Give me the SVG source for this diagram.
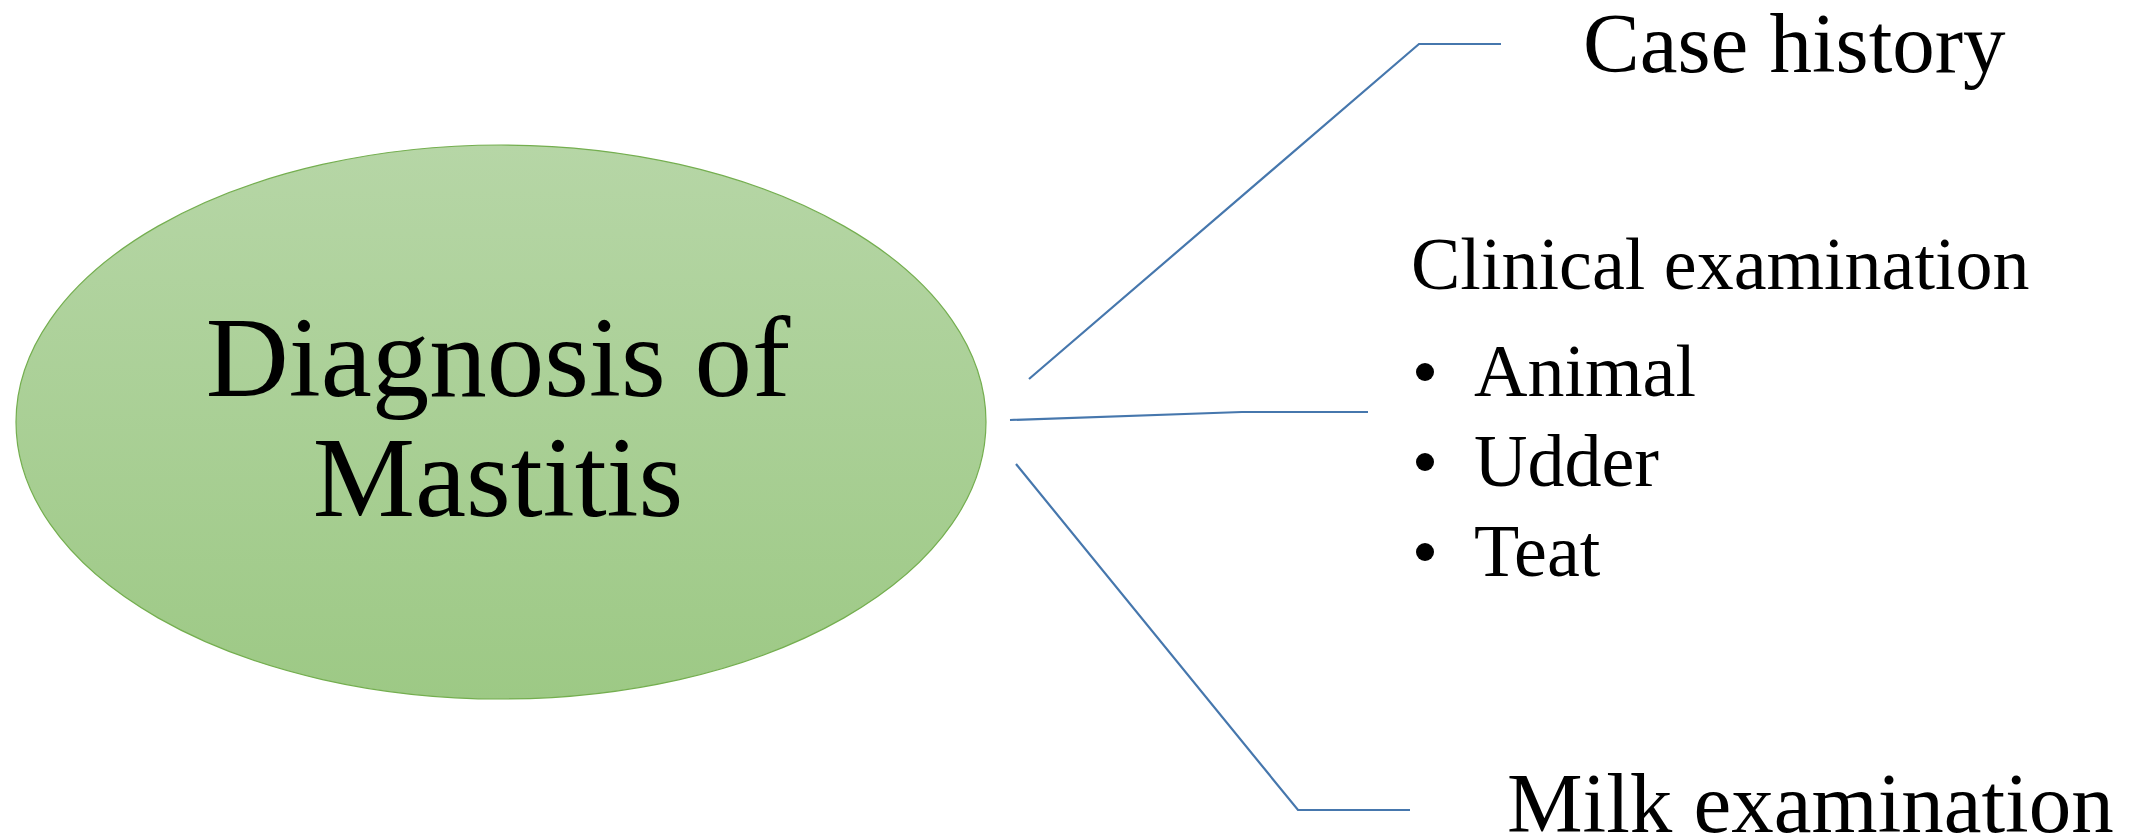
<svg xmlns="http://www.w3.org/2000/svg" width="2134" height="840" viewBox="0 0 2134 840">
<defs>
<linearGradient id="g" x1="0" y1="0" x2="0" y2="1">
<stop offset="0" stop-color="#b6d6a6"/>
<stop offset="1" stop-color="#9dc985"/>
</linearGradient>
<style>
.t{font-family:'Liberation Serif','Times New Roman',Tinos,'DejaVu Serif',serif;fill:#000}
.c{fill:none;stroke:#4677ad;stroke-width:2.2}
</style>
</defs>
<rect width="2134" height="840" fill="#fff"/>
<g id="main">
<ellipse cx="501" cy="422" rx="485" ry="277" fill="url(#g)" stroke="#74ae4f" stroke-width="1.2"/>
<text class="t" x="498" y="396" font-size="115" text-anchor="middle">Diagnosis of</text>
<text class="t" x="498" y="516" font-size="115" text-anchor="middle">Mastitis</text>
</g>
<g id="connectors">
<polyline class="c" points="1029,379 1419,44 1501,44"/>
<polyline class="c" points="1010,420 1242,412 1368,412"/>
<polyline class="c" points="1016,464 1298,810 1410,810"/>
</g>
<g id="case-history">
<text class="t" x="1583" y="72" font-size="85">Case history</text>
</g>
<g id="clinical-examination">
<text class="t" x="1411" y="289" font-size="74">Clinical examination</text>
<circle cx="1425" cy="372" r="9"/>
<circle cx="1425" cy="462" r="9"/>
<circle cx="1425" cy="552" r="9"/>
<text class="t" x="1474" y="396" font-size="74">Animal</text>
<text class="t" x="1474" y="486" font-size="74">Udder</text>
<text class="t" x="1474" y="576" font-size="74">Teat</text>
</g>
<g id="milk-examination">
<text class="t" x="1507" y="832" font-size="85">Milk examination</text>
</g>
</svg>
